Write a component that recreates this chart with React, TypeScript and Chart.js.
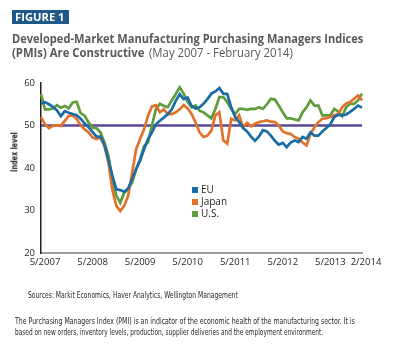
import React, { useEffect, useLayoutEffect, useRef, useState } from "react";
import { Chart, registerables } from "chart.js";

Chart.register(...registerables);

// ---- Data ----
const months: string[] = (() => {
  const out: string[] = [];
  let m = 5;
  let y = 2007;
  while (!(y === 2014 && m === 3)) {
    out.push(`${m}/${y}`);
    m++;
    if (m > 12) {
      m = 1;
      y++;
    }
  }
  return out;
})();

const xTickLabels = ["5/2007", "5/2008", "5/2009", "5/2010", "5/2011", "5/2012", "5/2013", "2/2014"];
const yMin = 20;
const yMax = 60;
const yStep = 10;
const referenceLevel = 50;

const seriesNames = ["EU", "Japan", "U.S."];

const euPMI = [
  55.2, 55.5, 55.0, 54.4, 53.6, 52.2, 53.4, 53.0, 52.7, 52.4,
  51.6, 50.5, 49.6, 48.5, 47.4, 47.4, 45.5, 42.0, 38.2, 35.0,
  34.8, 34.4, 35.2, 37.4, 39.7, 41.7, 44.4, 46.8, 48.4, 50.3,
  51.1, 51.9, 52.7, 53.8, 55.8, 57.4, 56.2, 56.6, 54.6, 54.0,
  54.3, 55.1, 56.2, 57.5, 58.0, 58.8, 57.5, 57.4, 54.3, 52.0,
  50.8, 49.4, 48.6, 47.4, 46.4, 47.4, 48.9, 48.6, 47.6, 46.4,
  45.5, 45.9, 44.9, 46.0, 46.5, 46.1, 47.3, 46.9, 48.4, 47.6,
  47.6, 48.6, 49.4, 50.3, 52.0, 52.5, 52.4, 52.6, 53.2, 53.9,
  54.7, 54.2,
];

const japanPMI = [
  51.9, 50.3, 49.4, 49.9, 50.1, 49.9, 51.1, 52.3, 52.4, 51.5,
  50.1, 49.1, 48.4, 47.2, 46.8, 47.2, 45.2, 41.3, 35.0, 31.1,
  29.9, 31.1, 33.5, 38.9, 44.4, 46.8, 49.1, 52.3, 54.5, 54.8,
  53.1, 53.8, 52.7, 52.7, 53.1, 53.8, 54.8, 54.0, 52.7, 50.7,
  48.4, 47.3, 47.6, 48.8, 52.4, 53.1, 46.5, 45.7, 51.6, 51.2,
  52.4, 49.6, 50.6, 49.8, 50.4, 50.8, 51.0, 51.2, 50.9, 50.8,
  50.0, 48.6, 48.2, 48.0, 47.3, 46.9, 46.0, 45.3, 48.0, 49.6,
  50.8, 51.6, 51.7, 52.0, 52.4, 52.7, 54.3, 55.2, 55.5, 56.3,
  57.1, 55.9,
];

const usPMI = [
  57.4, 53.8, 53.8, 54.0, 54.8, 54.2, 54.6, 54.0, 55.4, 55.6,
  52.9, 52.3, 50.7, 49.5, 49.4, 48.4, 46.0, 42.9, 37.4, 33.5,
  31.8, 34.2, 35.0, 36.6, 39.7, 42.1, 45.2, 46.0, 50.0, 53.9,
  55.1, 54.6, 54.3, 55.9, 57.4, 59.0, 57.5, 55.5, 54.3, 54.7,
  53.5, 53.1, 52.4, 51.7, 53.9, 56.7, 56.7, 55.5, 53.9, 52.7,
  53.9, 53.9, 53.7, 53.9, 53.9, 54.3, 53.9, 55.0, 56.3, 56.1,
  54.7, 53.1, 51.7, 51.7, 51.4, 51.2, 53.1, 54.3, 55.9, 54.7,
  54.7, 52.4, 52.4, 52.4, 53.9, 53.3, 52.2, 54.3, 55.1, 55.1,
  55.9, 57.5,
];

// ---- Styles ----
const BLUE = "#1a6ca6";
const ORANGE = "#e2722b";
const GREEN = "#5e9c3c";
const PURPLE = "#5a4796";
const seriesColors = [BLUE, ORANGE, GREEN];
const seriesData = [euPMI, japanPMI, usPMI];

const SANS = '"Open Sans", "DejaVu Sans", sans-serif';
const NARROW = '"Liberation Sans Narrow", "DejaVu Sans Condensed", "Liberation Sans", sans-serif';

type TxtProps = {
  x: number;
  y: number;
  w: number;
  size: number;
  weight?: number;
  color: string;
  family: string;
  rotate?: boolean;
  children: React.ReactNode;
};

function Txt({ x, y, w, size, weight = 400, color, family, rotate, children }: TxtProps) {
  const ref = useRef<HTMLDivElement>(null);
  const [sx, setSx] = useState(1);
  useLayoutEffect(() => {
    const measure = () => {
      const el = ref.current;
      if (!el) return;
      const nat = el.offsetWidth;
      if (nat > 0) setSx(w / nat);
    };
    measure();
    if ((document as any).fonts && (document as any).fonts.ready) {
      (document as any).fonts.ready.then(measure);
    }
  }, [w, children]);
  const base: React.CSSProperties = {
    position: "absolute",
    whiteSpace: "nowrap",
    fontSize: size,
    lineHeight: `${size * 1.2}px`,
    fontWeight: weight,
    color,
    fontFamily: family,
  };
  if (rotate) {
    return (
      <div
        ref={ref}
        style={{
          ...base,
          left: x,
          top: y,
          transform: `translate(-50%, -50%) rotate(-90deg) scaleX(${sx})`,
          transformOrigin: "50% 50%",
        }}
      >
        {children}
      </div>
    );
  }
  return (
    <div
      ref={ref}
      style={{
        ...base,
        left: x,
        top: y - size * 0.6,
        transform: `scaleX(${sx})`,
        transformOrigin: "0 50%",
      }}
    >
      {children}
    </div>
  );
}

const refLinePlugin = {
  id: "refLine",
  beforeDatasetsDraw(chart: any) {
    const { ctx, chartArea, scales } = chart;
    const y = scales.y.getPixelForValue(referenceLevel);
    ctx.save();
    ctx.strokeStyle = PURPLE;
    ctx.lineWidth = 2.5;
    ctx.beginPath();
    ctx.moveTo(chartArea.left, y);
    ctx.lineTo(chartArea.right, y);
    ctx.stroke();
    ctx.restore();
  },
};

function PMIChart() {
  const canvasRef = useRef<HTMLCanvasElement>(null);
  useEffect(() => {
    const canvas = canvasRef.current;
    if (!canvas) return;
    const chart = new Chart(canvas, {
      type: "line",
      data: {
        labels: months,
        datasets: seriesNames.map((name, i) => ({
          label: name,
          data: seriesData[i],
          borderColor: seriesColors[i],
          backgroundColor: seriesColors[i],
          borderWidth: 2.7,
          pointRadius: 0,
          tension: 0,
          fill: false,
        })),
      },
      options: {
        responsive: false,
        animation: false,
        devicePixelRatio: 1,
        layout: { padding: { left: 0, top: 83, right: 34, bottom: 78 } },
        plugins: {
          legend: { display: false },
          tooltip: { enabled: false },
        },
        scales: {
          x: {
            type: "category",
            offset: false,
            grid: { display: false, drawTicks: false },
            border: { display: true, color: "#9d9d9d", width: 2 },
            ticks: {
              autoSkip: false,
              maxRotation: 0,
              minRotation: 0,
              padding: 4,
              labelOffset: 4,
              color: "#231f20",
              font: { family: SANS, size: 9.5 },
              callback: (_v: any, index: number) =>
                xTickLabels.includes(months[index]) ? months[index] : null,
            },
            afterFit: (scale: any) => {
              scale.height = 20;
            },
          },
          y: {
            min: yMin,
            max: yMax,
            grid: { display: false, drawTicks: false },
            border: { display: true, color: "#231f20", width: 1.5 },
            ticks: {
              stepSize: yStep,
              padding: 6,
              color: "#231f20",
              font: { family: SANS, size: 9.5 },
            },
            afterFit: (scale: any) => {
              scale.width = 41;
            },
          },
        },
      },
      plugins: [refLinePlugin],
    } as any);
    return () => chart.destroy();
  }, []);
  return (
    <canvas
      ref={canvasRef}
      width={396}
      height={351}
      style={{ position: "absolute", left: 0, top: 0, width: 396, height: 351 }}
    />
  );
}

export default function App() {
  const legendY = [189.5, 202, 213.5];
  return (
    <div
      style={{
        position: "absolute",
        left: 0,
        top: 0,
        width: 396,
        height: 351,
        background: "#ffffff",
        overflow: "hidden",
      }}
    >
      <PMIChart />
      <div
        style={{
          position: "absolute",
          left: 12,
          top: 10,
          width: 57,
          height: 14,
          background: "#20588a",
        }}
      />
      <Txt x={15} y={17} w={50} size={11} weight={700} color="#ffffff" family={SANS}>
        FIGURE 1
      </Txt>
      <Txt x={12} y={39} w={351} size={12} weight={700} color="#58595b" family={SANS}>
        Developed-Market Manufacturing Purchasing Managers Indices
      </Txt>
      <Txt x={12} y={53.5} w={132} size={12} weight={700} color="#58595b" family={SANS}>
        (PMIs) Are Constructive
      </Txt>
      <Txt x={149} y={53.5} w={144} size={12} weight={400} color="#58595b" family={SANS}>
        (May 2007 - February 2014)
      </Txt>
      <Txt x={14} y={152} w={40} size={9.5} weight={700} color="#231f20" family={NARROW} rotate>
        Index level
      </Txt>
      {seriesNames.map((name, i) => (
        <React.Fragment key={name}>
          <div
            style={{
              position: "absolute",
              left: 192,
              top: legendY[i] - 3,
              width: 6,
              height: 6,
              background: seriesColors[i],
            }}
          />
          <div
            style={{
              position: "absolute",
              left: 201,
              top: legendY[i] - 7,
              fontSize: 10,
              lineHeight: "12px",
              fontFamily: SANS,
              color: "#231f20",
              whiteSpace: "nowrap",
            }}
          >
            {name}
          </div>
        </React.Fragment>
      ))}
      <Txt x={28} y={295} w={210} size={9.5} color="#231f20" family={NARROW}>
        Sources: Markit Economics, Haver Analytics, Wellington Management
      </Txt>
      <Txt x={15} y={321} w={340} size={9.5} color="#231f20" family={NARROW}>
        The Purchasing Managers Index (PMI) is an indicator of the economic health of the manufacturing sector. It is
      </Txt>
      <Txt x={15} y={332} w={308} size={9.5} color="#231f20" family={NARROW}>
        based on new orders, inventory levels, production, supplier deliveries and the employment environment.
      </Txt>
    </div>
  );
}
